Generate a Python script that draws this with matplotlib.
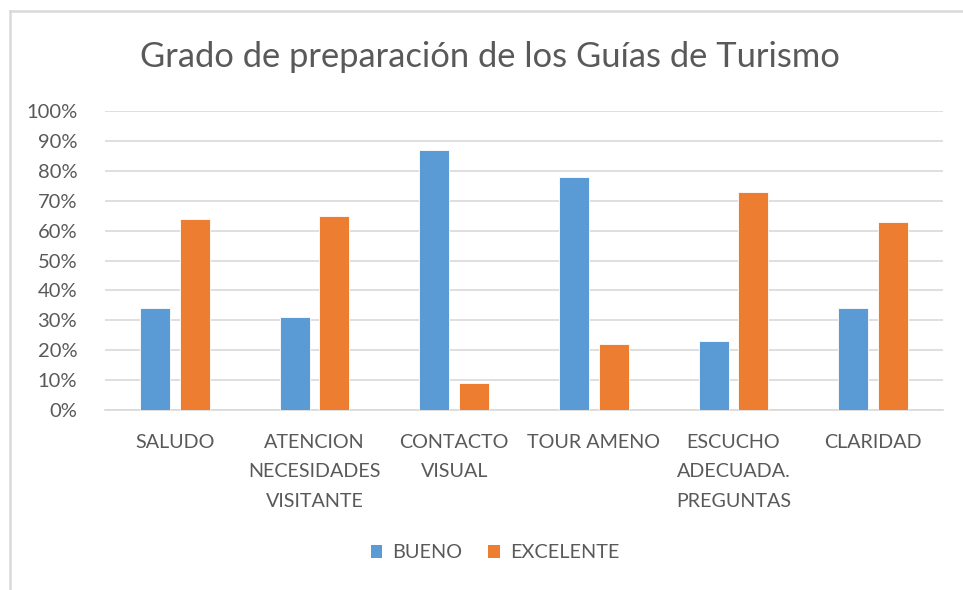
import matplotlib
matplotlib.use("Agg")
import matplotlib.pyplot as plt
import numpy as np
from matplotlib.lines import Line2D
from matplotlib.patches import Patch

categories = ["SALUDO", "ATENCION\nNECESIDADES\nVISITANTE", "CONTACTO\nVISUAL",
              "TOUR AMENO", "ESCUCHO\nADECUADA.\nPREGUNTAS", "CLARIDAD"]
bueno = [34, 31, 87, 78, 23, 34]
excelente = [64, 65, 9, 22, 73, 63]
series_names = ["BUENO", "EXCELENTE"]
yticks = list(range(0, 101, 10))
title = "Grado de preparación de los Guías de Turismo"

blue = "#5B9BD5"
orange = "#ED7D31"
txt = "#595959"
font = "Lato"

fig = plt.figure(figsize=(9.63, 5.90), dpi=100)
W, H = 963, 590
ax = fig.add_axes([105 / W, 1 - 410 / H, (943 - 105) / W, (410 - 111) / H])

x = np.arange(len(categories))
bw = 0.215
off = 0.142
ax.bar(x - off, bueno, bw, color=blue, edgecolor="white", linewidth=0.6, zorder=3)
ax.bar(x + off, excelente, bw, color=orange, edgecolor="white", linewidth=0.6, zorder=3)

ax.set_xlim(-0.5, len(categories) - 0.5)
ax.set_ylim(0, 100)
ax.set_yticks(yticks)
ax.set_yticklabels([f"{v}%" for v in yticks], fontsize=14.5, color=txt, family=font)
ax.set_xticks(x)
ax.set_xticklabels(categories, fontsize=14.2, color=txt, family=font, linespacing=1.9,
                   va="top")
ax.tick_params(axis="both", length=0)
ax.tick_params(axis="y", pad=20)
ax.tick_params(axis="x", pad=17)
ax.grid(axis="y", color="#d9d9d9", linewidth=1.2, zorder=0)
for s in ["top", "right", "left"]:
    ax.spines[s].set_visible(False)
ax.spines["bottom"].set_color("#d9d9d9")
ax.spines["bottom"].set_linewidth(1.2)

fig.text(490 / W, 1 - 57 / H, title, ha="center", va="center", fontsize=24.8,
         color=txt, family=font)

handles = [Patch(facecolor=blue), Patch(facecolor=orange)]
fig.legend(handles, series_names, loc="center", bbox_to_anchor=(495 / W, 1 - 553 / H),
           ncol=2, frameon=False, prop={"family": font, "size": 14.3},
           labelcolor=txt, handlelength=0.6, handleheight=0.6, handletextpad=0.5,
           columnspacing=1.3)

# chart border (top and left visible)
fig.add_artist(Line2D([10 / W, 1], [1 - 11 / H, 1 - 11 / H], color="#d9d9d9", linewidth=1.8))
fig.add_artist(Line2D([10 / W, 10 / W], [0, 1 - 11 / H], color="#d9d9d9", linewidth=1.8))

fig.savefig("out.png", dpi=100)
